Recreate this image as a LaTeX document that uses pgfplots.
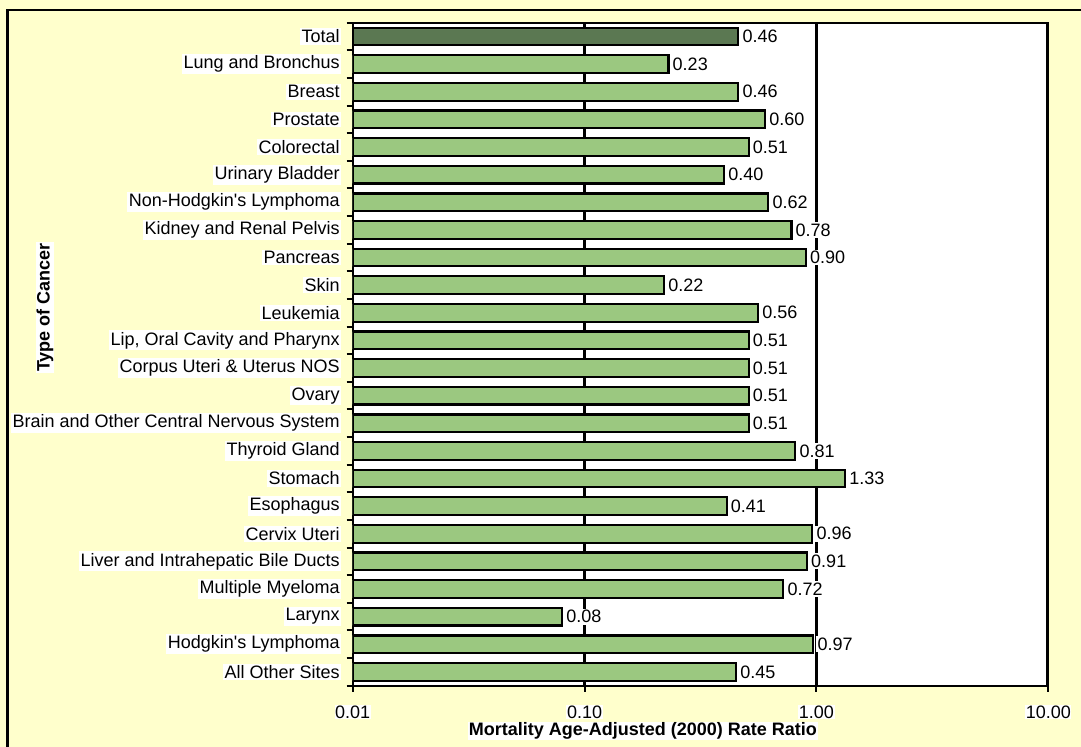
\documentclass[border=0pt]{standalone}
\usepackage{pgfplots}
\pgfplotsset{compat=1.18}
\usepackage{pgfplotstable}
\usepackage{fontspec}
\setmainfont{Liberation Sans}

\definecolor{barGreen}{RGB}{155,200,128}
\definecolor{totalGreen}{RGB}{91,120,82}
\definecolor{chartBg}{RGB}{255,255,204}

% row 0 is the total, rows 1-23 the single sites (top to bottom)
\pgfplotstableread{
idx val
0 0.46
}\totalrow

\pgfplotstableread{
idx val
1 0.23
2 0.46
3 0.60
4 0.51
5 0.40
6 0.62
7 0.78
8 0.90
9 0.22
10 0.56
11 0.51
12 0.51
13 0.51
14 0.51
15 0.81
16 1.33
17 0.41
18 0.96
19 0.91
20 0.72
21 0.08
22 0.97
23 0.45
}\siterows

\begin{document}
\fontsize{9}{11}\selectfont
\begin{tikzpicture}
\fill[chartBg] (-180pt,-40pt) rectangle (370pt,350pt);
\draw[line width=1.3pt] (-172.7pt,-40pt) |- (370pt,337.85pt);
\begin{axis}[
    at={(0,0)}, anchor=south west,
    scale only axis,
    width=347.8pt, height=331.5pt,
    xbar, bar width=8.85pt,
    xmode=log, log origin x=infty,
    xmin=0.01, xmax=10,
    ymin=-0.5, ymax=23.5, y dir=reverse,
    axis background/.style={fill=white},
    axis line style={line width=1pt},
    every tick/.style={black, line width=1pt},
    tick align=outside, major tick length=3pt,
    xminorticks=false,
    xtick pos=bottom, ytick pos=left,
    xtick={0.01,0.1,1,10},
    xticklabels={0.01,0.10,1.00,10.00},
    x tick label style={anchor=center, yshift=-10.15pt, fill=white, inner sep=0.3pt},
    ytick={-0.5,0.5,...,23.5},
    yticklabels={},
    extra y ticks={0,1,...,23},
    extra y tick labels={Total, Lung and Bronchus, Breast, Prostate, Colorectal,
        Urinary Bladder, Non-Hodgkin\textquotesingle s Lymphoma, Kidney and Renal Pelvis, Pancreas,
        Skin, Leukemia, {Lip, Oral Cavity and Pharynx}, Corpus Uteri \& Uterus NOS,
        Ovary, Brain and Other Central Nervous System, Thyroid Gland, Stomach,
        Esophagus, Cervix Uteri, Liver and Intrahepatic Bile Ducts, Multiple Myeloma,
        Larynx, Hodgkin\textquotesingle s Lymphoma, All Other Sites},
    extra y tick style={tick style={draw=none},
        tick label style={anchor=east, fill=white, inner sep=0.8pt, xshift=-2.5pt}},
    /pgf/number format/assume math mode=true,
    xlabel={\bfseries Mortality Age-Adjusted (2000) Rate Ratio},
    xlabel style={at={(axis description cs:0.4173,-0.0683)}, anchor=center,
        fill=white, inner sep=0.3pt},
    ylabel={\bfseries Type of Cancer},
    ylabel style={at={(axis description cs:-0.4423,0.5704)}, anchor=center,
        fill=white, inner sep=0.5pt},
    point meta=explicit,
    nodes near coords={\pgfmathprintnumber[fixed,fixed zerofill,precision=2]{\pgfplotspointmeta}},
    every node near coord/.append style={anchor=west, fill=white, inner sep=0.8pt, xshift=0.8pt},
]
\draw[line width=1.4pt] (axis cs:0.1,-0.5) -- (axis cs:0.1,23.5);
\draw[line width=1.9pt] (axis cs:1,-0.5) -- (axis cs:1,23.5);
\draw[line width=1.9pt] (axis cs:10,-0.5) -- (axis cs:10,23.5);
\addplot[draw=black, line width=1.1pt, fill=totalGreen, bar shift=0pt]
    table[x=val, y=idx, meta=val] {\totalrow};
\addplot[draw=black, line width=1.1pt, fill=barGreen, bar shift=0pt]
    table[x=val, y=idx, meta=val] {\siterows};
\end{axis}
\pgfresetboundingbox
\useasboundingbox (-176.35pt,-30.65pt) rectangle (364.15pt,342.85pt);
\end{tikzpicture}
\end{document}
